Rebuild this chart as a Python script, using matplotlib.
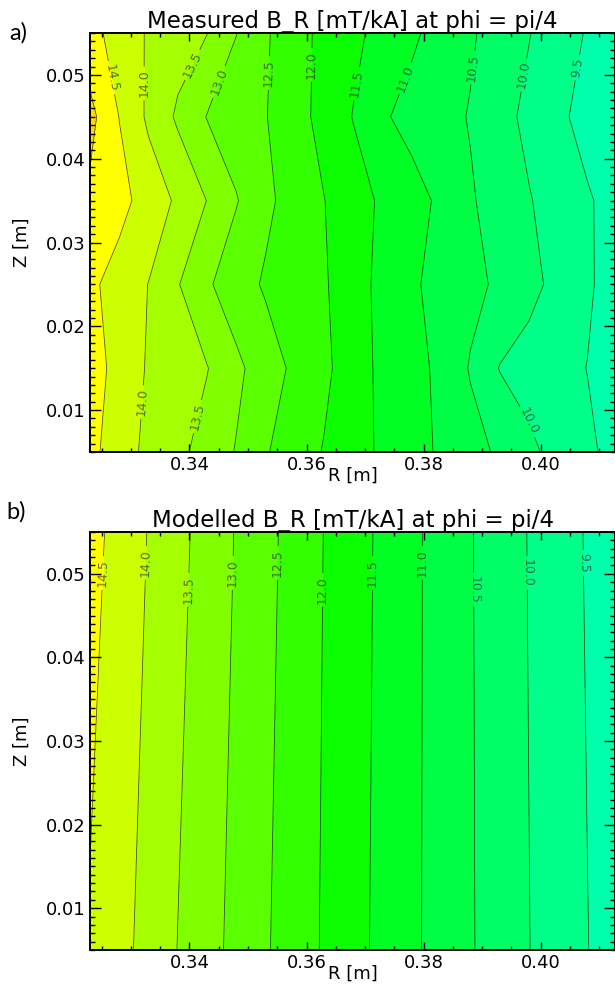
import numpy as np
import matplotlib
matplotlib.use('Agg')
import matplotlib.pyplot as plt
from matplotlib.ticker import MultipleLocator, FormatStrFormatter

# grid of the measurement / model (R [m], Z [m])
r_nodes = [0.323, 0.328, 0.333, 0.338, 0.343, 0.348, 0.353, 0.358, 0.363, 0.368,
           0.373, 0.378, 0.383, 0.388, 0.393, 0.398, 0.403, 0.408, 0.413]
z_meas = [0.005, 0.015, 0.025, 0.035, 0.045, 0.055]
z_model = [0.005, 0.055]

# measured B_R [mT/kA], one row per z
b_meas_z005 = [14.64, 14.23, 13.88, 13.62, 13.31, 12.97, 12.54, 12.25, 11.97, 11.69,
               11.42, 11.18, 10.93, 10.68, 10.42, 10.10, 9.84, 9.59, 9.34]
b_meas_z015 = [14.74, 14.32, 13.95, 13.73, 13.52, 13.11, 12.74, 12.40, 12.11, 11.72,
               11.39, 11.17, 10.89, 10.46, 9.98, 9.82, 9.66, 9.49, 9.26]
b_meas_z025 = [14.60, 14.30, 13.99, 13.53, 13.07, 12.72, 12.44, 12.25, 12.05, 11.71,
               11.36, 11.07, 10.84, 10.64, 10.41, 10.14, 9.86, 9.57, 9.27]
b_meas_z035 = [14.90, 14.66, 14.29, 13.92, 13.49, 13.03, 12.61, 12.29, 12.01, 11.71,
               11.42, 11.18, 10.91, 10.55, 10.29, 10.03, 9.79, 9.55, 9.32]
b_meas_z045 = [15.15, 14.49, 13.91, 13.42, 12.98, 12.75, 12.52, 12.19, 11.84, 11.48,
               11.06, 10.84, 10.66, 10.47, 10.17, 9.88, 9.60, 9.33, 9.05]
b_meas_z055 = [14.67, 14.29, 13.95, 13.73, 13.51, 13.01, 12.56, 12.19, 11.87, 11.61,
               11.34, 11.08, 10.82, 10.56, 10.29, 10.02, 9.74, 9.46, 9.18]

# modelled B_R [mT/kA]
b_model_z005 = [14.45, 14.16, 13.83, 13.49, 13.18, 12.86, 12.55, 12.25, 11.95, 11.66,
                11.37, 11.09, 10.82, 10.54, 10.28, 10.01, 9.76, 9.51, 9.28]
b_model_z055 = [14.68, 14.32, 13.98, 13.64, 13.31, 12.97, 12.64, 12.32, 11.99, 11.70,
                11.40, 11.10, 10.82, 10.53, 10.25, 9.98, 9.72, 9.46, 9.22]

levels = [9.0, 9.5, 10.0, 10.5, 11.0, 11.5, 12.0, 12.5, 13.0, 13.5, 14.0, 14.5, 15.0, 15.5]
band_colors = ['#00ffaa', '#00ff88', '#00ff66', '#00ff44', '#00ff22', '#0cff00', '#33ff00',
               '#5aff00', '#80ff00', '#a6ff00', '#ccff00', '#ffff00', '#ffd800']

# where the inline labels sit (R, Z)
labels_meas = [(0.3269, 0.0497), (0.3319, 0.0490), (0.3405, 0.0512), (0.3441, 0.0494),
               (0.3538, 0.0502), (0.3610, 0.0512), (0.3684, 0.0490), (0.3764, 0.0497),
               (0.3880, 0.0509), (0.3969, 0.0500), (0.4060, 0.0509),
               (0.3310, 0.0110), (0.3415, 0.0092), (0.3978, 0.0086)]
labels_model = [(0.3247, 0.0501), (0.3324, 0.0513), (0.3397, 0.0481), (0.3473, 0.0501),
                (0.3548, 0.0513), (0.3627, 0.0481), (0.3713, 0.0501), (0.3797, 0.0513),
                (0.3891, 0.0481), (0.3978, 0.0501), (0.4074, 0.0513)]


def draw_panel(ax, z, b, title, label_pos):
    R, Z = np.meshgrid(r_nodes, z)
    ax.contourf(R, Z, b, levels=levels, colors=band_colors)
    cs = ax.contour(R, Z, b, levels=levels[1:-1], colors='black', linewidths=0.55, alpha=0.7)
    ax.clabel(cs, manual=label_pos, inline=True, inline_spacing=3, fontsize=9,
              fmt='%.1f', colors='#333333')

    ax.set_xlim(0.323, 0.4127)
    ax.set_ylim(0.005, 0.055)
    ax.set_xticks([0.34, 0.36, 0.38, 0.40])
    ax.xaxis.set_minor_locator(MultipleLocator(0.005))
    ax.yaxis.set_major_locator(MultipleLocator(0.01))
    ax.yaxis.set_minor_locator(MultipleLocator(0.001))
    ax.xaxis.set_major_formatter(FormatStrFormatter('%.2f'))
    ax.yaxis.set_major_formatter(FormatStrFormatter('%.2f'))
    ax.tick_params(which='both', direction='in', top=True, right=True, width=1.0,
                   labelsize=13, pad=3)
    ax.tick_params(axis='x', which='major', length=5.8)
    ax.tick_params(axis='x', which='minor', length=3)
    ax.tick_params(axis='y', which='major', length=8)
    ax.tick_params(axis='y', which='minor', length=3.6)
    for sp in ax.spines.values():
        sp.set_linewidth(1.4)

    ax.set_title(title, fontsize=16.5, pad=3)
    ax.set_xlabel('R [m]', fontsize=13)
    ax.set_ylabel('Z [m]', fontsize=13)
    ax.xaxis.set_label_coords(0.5, -0.036)
    ax.yaxis.set_label_coords(-0.112, 0.5)


fig = plt.figure(figsize=(6.15, 9.85), dpi=100)
ax1 = fig.add_axes([90 / 615, 1 - 452 / 985, 525 / 615, 419 / 985])
ax2 = fig.add_axes([90 / 615, 1 - 950 / 985, 525 / 615, 418 / 985])

b_meas = np.array([b_meas_z005, b_meas_z015, b_meas_z025, b_meas_z035, b_meas_z045, b_meas_z055])
b_model = np.array([b_model_z005, b_model_z055])

draw_panel(ax1, z_meas, b_meas, 'Measured B_R [mT/kA] at phi = pi/4', labels_meas)
draw_panel(ax2, z_model, b_model, 'Modelled B_R [mT/kA] at phi = pi/4', labels_model)

fig.text(18 / 615, 1 - 33 / 985, 'a)', fontsize=17, family='Lato', ha='center', va='center')
fig.text(16 / 615, 1 - 512 / 985, 'b)', fontsize=17, family='Lato', ha='center', va='center')

plt.savefig('out.png', dpi=100)
